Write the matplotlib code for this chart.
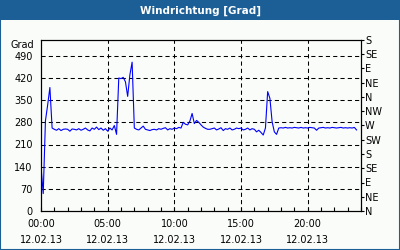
import matplotlib
matplotlib.use('Agg')
import matplotlib.pyplot as plt
from matplotlib.patches import Rectangle

# wind direction, 10 minute steps starting 00:00 on 12.02.13
wind_dir = [
    140, 55, 285, 335, 390, 262, 258, 255, 260, 254,
    258, 259, 258, 252, 259, 258, 256, 260, 255, 258,
    262, 256, 253, 262, 258, 265, 257, 262, 255, 260,
    252, 262, 256, 270, 242, 420, 418, 422, 408, 362,
    430, 470, 262, 258, 256, 262, 268, 258, 256, 254,
    257, 258, 256, 260, 258, 261, 263, 256, 260, 258,
    262, 260, 264, 262, 280, 274, 272, 284, 308, 276,
    286, 280, 272, 265, 261, 258, 258, 260, 262, 256,
    259, 263, 254, 260, 258, 262, 256, 258, 262, 260,
    262, 256, 258, 262, 256, 260, 258, 250, 255, 248,
    240, 262, 377, 356, 282, 250, 242, 262, 263, 262,
    264, 262, 263, 262, 264, 263, 262, 264, 262, 263,
    262, 264, 263, 262, 255, 262, 263, 264, 262, 263,
    262, 264, 263, 262, 263, 264, 262, 263, 262, 263,
    262, 264, 256,
]
hours = [k / 6.0 for k in range(len(wind_dir))]

xtick_hours = [0, 5, 10, 15, 20]
xtick_labels = ['00:00\n12.02.13', '05:00\n12.02.13', '10:00\n12.02.13',
                '15:00\n12.02.13', '20:00\n12.02.13']
left_ticks = [0, 70, 140, 210, 280, 350, 420, 490]
right_ticks = [0, 45, 90, 135, 180, 225, 270, 315, 360, 405, 450, 495, 540]
right_labels = ['N', 'NE', 'E', 'SE', 'S', 'SW', 'W', 'NW', 'N', 'NE', 'E', 'SE', 'S']

bar_blue = '#1c5f96'
bg = '#f9fcf9'
fs = 7

fig = plt.figure(figsize=(4, 2.5), dpi=100, facecolor=bg)

# title bar and frame
fig.patches.append(Rectangle((0, 0.92), 1, 0.08, transform=fig.transFigure,
                             facecolor=bar_blue, edgecolor='none', zorder=0))
fig.patches.append(Rectangle((0, 0), 1, 1, transform=fig.transFigure,
                             facecolor='none', edgecolor=bar_blue, linewidth=1.5, zorder=5))
fig.text(0.5, 0.958, 'Windrichtung [Grad]', color='white', fontsize=7.5,
         fontweight='bold', ha='center', va='center')

ax = fig.add_axes([0.1025, 0.156, 0.8, 0.684])
ax.set_facecolor(bg)
ax.plot(hours, wind_dir, color='#0000ff', linewidth=0.8, zorder=3)

# x axis
ax.set_xlim(0, 24)
ax.set_xticks(xtick_hours)
ax.set_xticklabels(xtick_labels, fontsize=fs, linespacing=1.7)
ax.set_xticks(range(0, 25), minor=True)
ax.tick_params(axis='x', which='both', direction='in', length=3, width=0.8, pad=6)

# left y axis
ax.set_ylim(0, 540)
ax.set_yticks(left_ticks)
ax.set_yticklabels([str(v) for v in left_ticks], fontsize=fs)
ax.tick_params(axis='y', which='both', length=0, pad=6)
ax.text(-0.02, 0.97, 'Grad', transform=ax.transAxes, fontsize=fs,
        ha='right', va='center')

# right y axis (compass)
ax2 = ax.twinx()
ax2.set_ylim(0, 540)
ax2.set_yticks(right_ticks)
ax2.set_yticklabels(right_labels, fontsize=fs)
ax2.tick_params(axis='y', direction='out', length=2, width=0.8, pad=1)

for a in (ax, ax2):
    for s in a.spines.values():
        s.set_linewidth(0.8)
        s.set_color('black')

# dashed grid
for v in left_ticks[1:]:
    ax.axhline(v, color='black', linewidth=0.75, linestyle=(0, (4, 3)), zorder=1)
for h in xtick_hours[1:]:
    ax.axvline(h, color='black', linewidth=0.75, linestyle=(0, (4, 3)), zorder=1)

fig.savefig('out.png', dpi=100, facecolor=bg)
